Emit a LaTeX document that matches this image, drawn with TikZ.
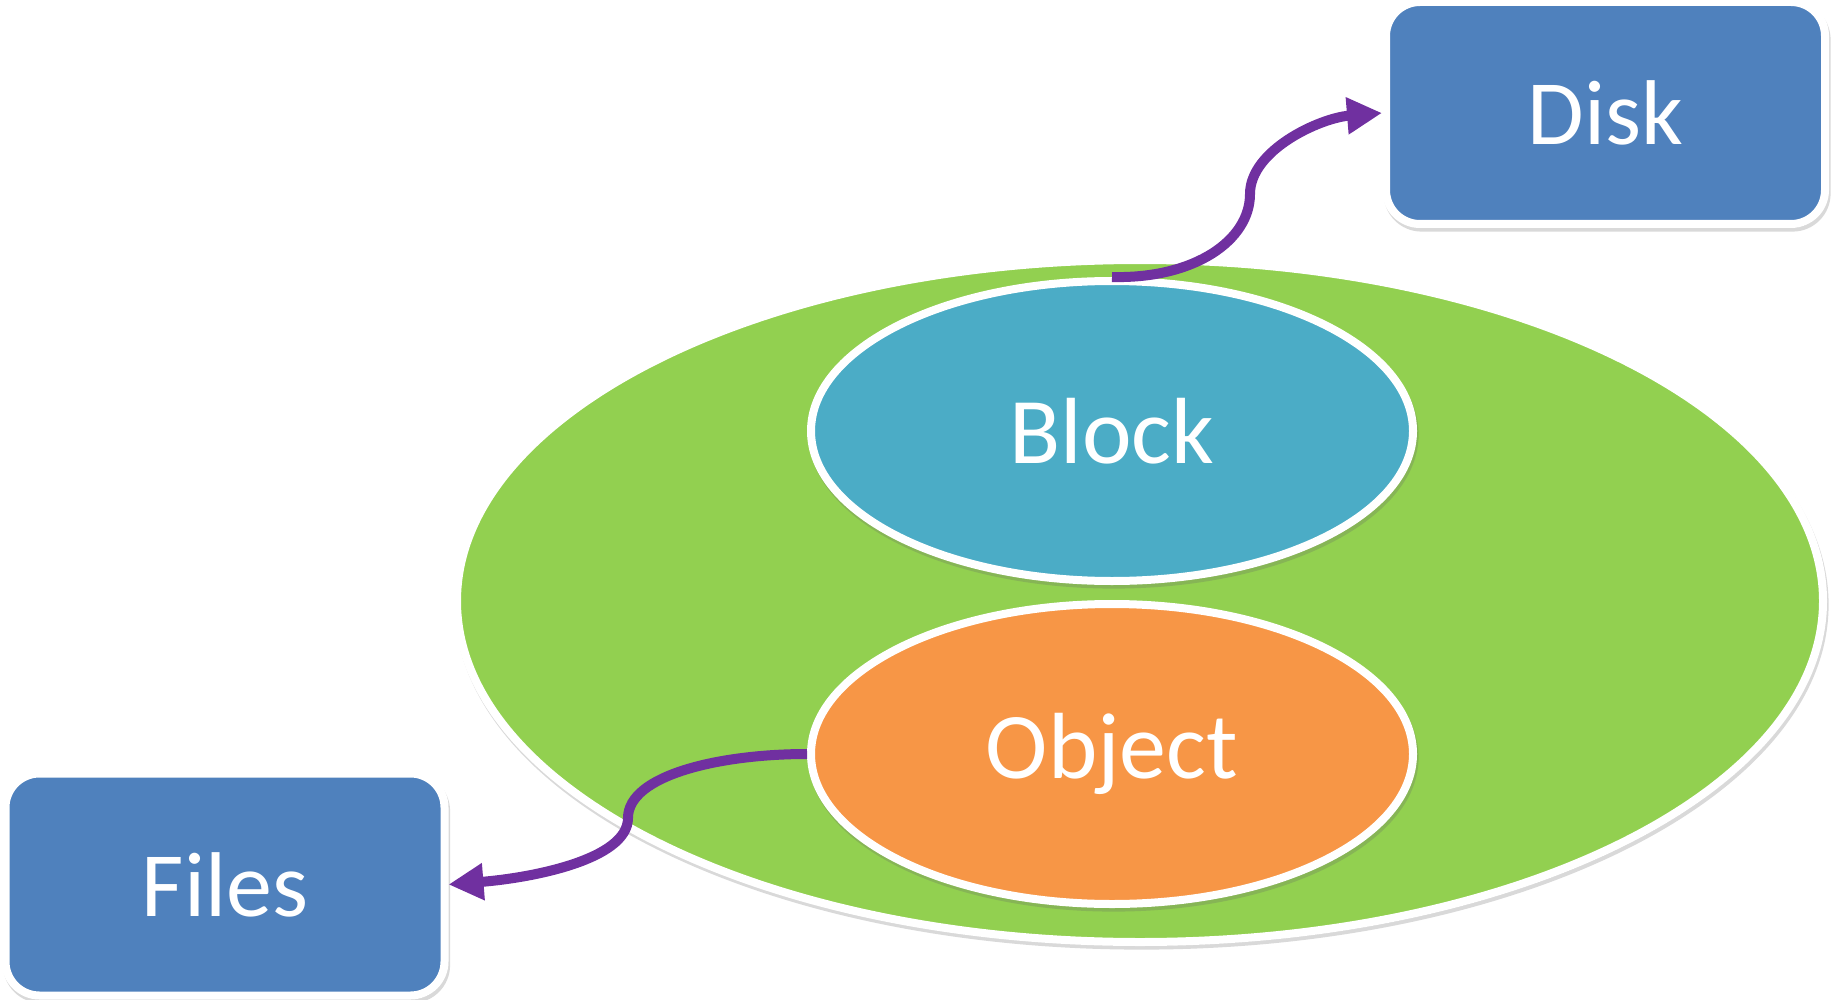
\documentclass[tikz,border=0pt]{standalone}
\usepackage{fontspec}
\setmainfont{Carlito}
\usetikzlibrary{shapes.geometric,arrows.meta,shadows}
\definecolor{cgreen}{HTML}{92D050}
\definecolor{cblock}{HTML}{4BACC6}
\definecolor{corange}{HTML}{F79646}
\definecolor{cbox}{HTML}{4F81BD}
\definecolor{cpurple}{HTML}{7030A0}
\tikzset{
  shade/.style={drop shadow={opacity=0.25,shadow xshift=0.8pt,shadow yshift=-1.8pt,
    fill=black!60,draw=black!60}},
  oval/.style={ellipse,draw=white,line width=4pt,inner sep=0pt,shade,text=white,
    font=\fontsize{47}{50}\selectfont},
  boxnode/.style={rectangle,rounded corners=17pt,draw=white,line width=4pt,fill=cbox,
    inner sep=0pt,minimum width=219.5pt,minimum height=111pt,shade,text=white,
    font=\fontsize{46}{50}\selectfont},
  link/.style={draw=cpurple,line width=5pt,-{Triangle[length=17.5pt,width=17.5pt]}}
}
\begin{document}
\begin{tikzpicture}[x=0.5pt,y=-0.5pt]
\useasboundingbox (0,0) rectangle (1841,1000);
\node[oval,fill=cgreen,minimum width=683pt,minimum height=341pt] (store) at (1140,601) {};
\node[oval,fill=cblock,minimum width=301pt,minimum height=150pt] (block) at (1112,431) {Block};
\node[oval,fill=corange,minimum width=301pt,minimum height=150pt] (object) at (1112,754) {Object};
\node[boxnode] (disk) at (1605.5,113) {Disk};
\node[boxnode] (files) at (225,884.5) {Files};
\coordinate (m1) at (1250,194);
\coordinate (m2) at (628,818);
\draw[link] (block.north) .. controls (1195,279) and (1250,240) .. (m1)
  .. controls (1250,150) and (1320,118) .. (disk.west);
\draw[link] (object.west) .. controls (720,754) and (628,775) .. (m2)
  .. controls (628,860) and (530,878) .. (files.east);
\end{tikzpicture}
\end{document}
